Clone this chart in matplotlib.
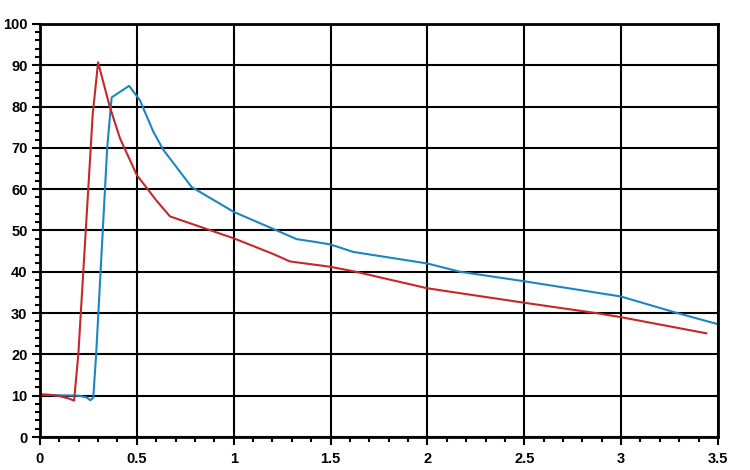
import matplotlib
matplotlib.use("Agg")
import matplotlib.pyplot as plt
from matplotlib.ticker import MultipleLocator, FormatStrFormatter

# values
x_red = [0, 0.05, 0.1, 0.15, 0.176, 0.198, 0.262, 0.272, 0.30, 0.36, 0.413, 0.5,
         0.6, 0.671, 1.0, 1.204, 1.29, 1.5, 1.63, 2.0, 2.17, 2.5, 2.87, 3.0, 3.44]
y_red = [10.3, 10.2, 9.9, 9.3, 8.8, 20, 70, 78, 90.7, 80, 72.3, 63.4,
         57.3, 53.4, 48.1, 44.3, 42.5, 41.2, 40, 36, 34.8, 32.5, 30, 29, 25.1]

x_blue = [0, 0.1, 0.2, 0.24, 0.26, 0.275, 0.29, 0.347, 0.37, 0.46, 0.516, 0.585,
          0.637, 0.783, 1.0, 1.222, 1.325, 1.41, 1.5, 1.617, 2.0, 2.168, 2.5, 3.0,
          3.29, 3.5]
y_blue = [10.3, 10.1, 10.0, 9.6, 8.9, 9.5, 20, 70, 82.2, 85, 81.5, 73.9,
          69.5, 60.5, 54.5, 50, 47.9, 47.3, 46.6, 44.8, 42, 40, 37.7, 34,
          30, 27.3]

fig = plt.figure(figsize=(7.5, 4.7), dpi=100)
ax = fig.add_axes([0.0533, 0.0702, 0.904, 0.879])

ax.grid(True, which='major', color='black', linewidth=1.5)
ax.set_axisbelow(True)

ax.plot(x_blue, y_blue, color='#1c86c2', linewidth=1.5)
ax.plot(x_red, y_red, color='#c3282b', linewidth=1.5)

ax.set_xlim(0, 3.5)
ax.set_ylim(0, 100)
ax.xaxis.set_major_locator(MultipleLocator(0.5))
ax.xaxis.set_minor_locator(MultipleLocator(0.1))
ax.yaxis.set_major_locator(MultipleLocator(10))
ax.yaxis.set_minor_locator(MultipleLocator(2))
ax.xaxis.set_major_formatter(FormatStrFormatter('%g'))

for side in ax.spines.values():
    side.set_linewidth(2)
    side.set_color('black')

ax.tick_params(which='major', direction='out', length=6, width=1.5,
               labelsize=10.5)
ax.tick_params(axis='x', which='major', pad=5)
ax.tick_params(axis='y', which='major', pad=3)
ax.tick_params(which='minor', direction='out', length=3.5, width=1.5)
for lab in ax.get_xticklabels() + ax.get_yticklabels():
    lab.set_fontweight('bold')
    lab.set_family('Liberation Sans')

plt.savefig("out.png", dpi=100)
